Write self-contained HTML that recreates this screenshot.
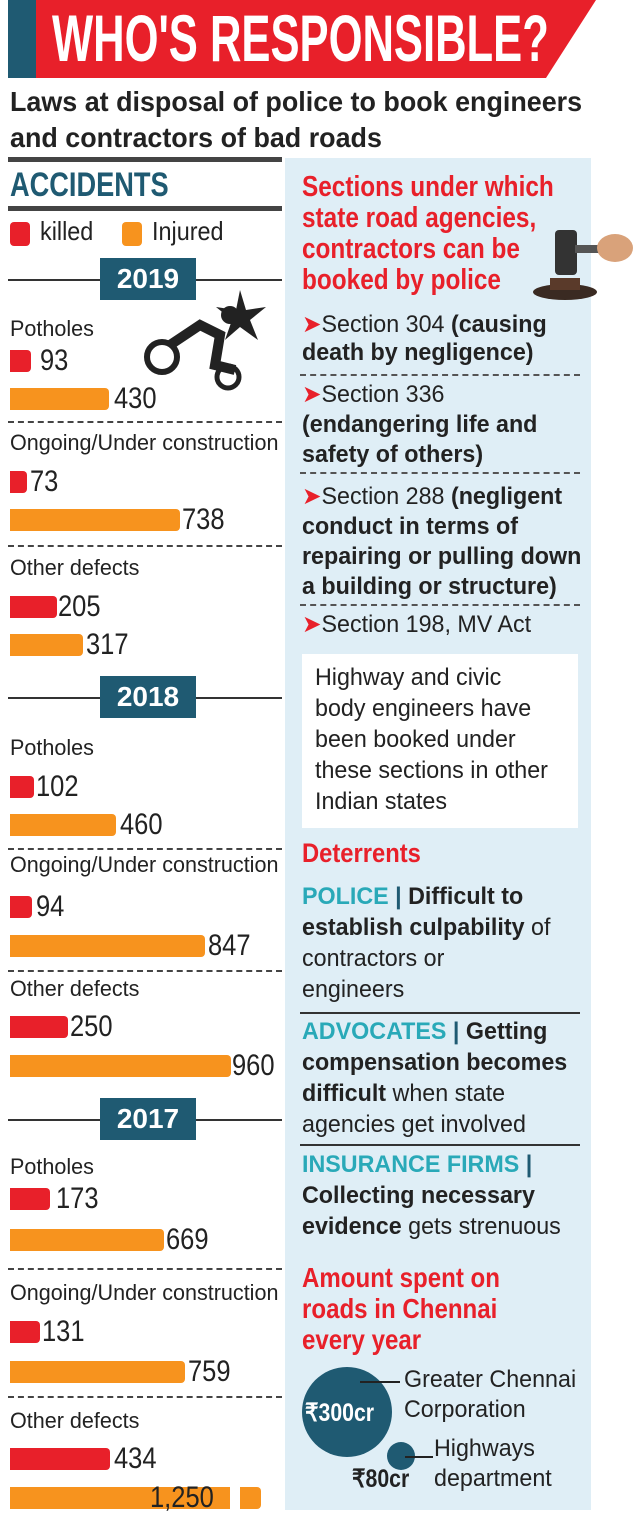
<!DOCTYPE html>
<html><head><meta charset="utf-8"><style>
*{margin:0;padding:0;box-sizing:border-box}
body{width:635px;height:1528px;background:#fff;position:relative;overflow:hidden;font-family:"Liberation Sans",sans-serif;color:#222;}
.a{position:absolute;white-space:nowrap}
.b{font-weight:bold}
.r{color:#e8202a}
.t{color:#29a9b8}
.red{position:absolute;background:#e8202a;border-radius:0 4px 4px 0;height:22px;left:10px}
.or{position:absolute;background:#f7931e;border-radius:0 4px 4px 0;height:22px;left:10px}
.lab{position:absolute;font-size:22px;left:10px;white-space:nowrap;transform:scaleX(0.98);transform-origin:left}
.num{position:absolute;font-size:30px;line-height:30px;transform:scaleX(0.85);transform-origin:left}
.dash{position:absolute;left:8px;width:274px;border-top:2px dashed #444}
.rd{position:absolute;left:300px;width:280px;border-top:2px dashed #555}
.rl{position:absolute;font-size:24px;line-height:30px;left:302px;white-space:nowrap;transform:scaleX(0.97);transform-origin:left}
.yr{position:absolute;left:100px;width:96px;height:42px;background:#1f5a72;color:#fff;font-weight:bold;font-size:28px;text-align:center;line-height:42px}
.yl{position:absolute;left:8px;width:274px;border-top:2px solid #333}
</style></head><body>
<div class="a" style="left:8px;top:0;width:30px;height:78px;background:#1f5a72"></div>
<svg class="a" style="left:36px;top:0" width="560" height="78"><polygon points="0,0 560,0 510,78 0,78" fill="#e8202a"/></svg>
<div class="a b" style="left:52px;top:2px;font-size:66px;line-height:72px;color:#fff;transform:scaleX(0.66);transform-origin:left">WHO'S RESPONSIBLE?</div>
<div class="a b" style="left:10px;top:84px;font-size:28px;line-height:36px;transform:scaleX(0.96);transform-origin:left">Laws at disposal of police to book engineers<br>and contractors of bad roads</div>

<div class="a" style="left:285px;top:158px;width:306px;height:1352px;background:#dfeef6"></div>

<div class="a" style="left:8px;top:157px;width:274px;height:5px;background:#444"></div>
<div class="a b" style="left:10px;top:166px;font-size:34px;color:#1f5a72;transform:scaleX(0.8);transform-origin:left">ACCIDENTS</div>
<div class="a" style="left:8px;top:206px;width:274px;height:5px;background:#444"></div>
<div class="a" style="left:10px;top:222px;width:20px;height:24px;background:#e8202a;border-radius:4px"></div>
<div class="a" style="left:40px;top:216px;font-size:26px;transform:scaleX(0.9);transform-origin:left">killed</div>
<div class="a" style="left:122px;top:222px;width:20px;height:24px;background:#f7931e;border-radius:4px"></div>
<div class="a" style="left:152px;top:216px;font-size:26px;transform:scaleX(0.9);transform-origin:left">Injured</div>

<div class="yl" style="top:279px"></div><div class="yr" style="top:258px">2019</div>
<svg class="a" style="left:140px;top:285px" width="130" height="110"><circle cx="22" cy="72" r="15" fill="none" stroke="#222" stroke-width="6"/><circle cx="88" cy="92" r="11" fill="none" stroke="#222" stroke-width="5"/><path d="M30,60 L60,40 L80,50 L75,80 L95,85" fill="none" stroke="#222" stroke-width="10"/><polygon points="100,5 106,25 126,22 110,35 118,55 100,42 85,55 92,35 76,22 96,25" fill="#222"/><circle cx="90" cy="30" r="9" fill="#222"/></svg>
<div class="lab" style="top:316px">Potholes</div>
<div class="red" style="top:350px;width:21px"></div><div class="num" style="left:40px;top:346px">93</div>
<div class="or" style="top:388px;width:99px"></div><div class="num" style="left:114px;top:384px">430</div>
<div class="dash" style="top:421px"></div>
<div class="lab" style="top:430px">Ongoing/Under construction</div>
<div class="red" style="top:471px;width:17px"></div><div class="num" style="left:30px;top:467px">73</div>
<div class="or" style="top:509px;width:170px"></div><div class="num" style="left:182px;top:505px">738</div>
<div class="dash" style="top:545px"></div>
<div class="lab" style="top:555px">Other defects</div>
<div class="red" style="top:596px;width:47px"></div><div class="num" style="left:58px;top:592px">205</div>
<div class="or" style="top:634px;width:73px"></div><div class="num" style="left:86px;top:630px">317</div>

<div class="yl" style="top:697px"></div><div class="yr" style="top:676px">2018</div>
<div class="lab" style="top:735px">Potholes</div>
<div class="red" style="top:776px;width:24px"></div><div class="num" style="left:36px;top:772px">102</div>
<div class="or" style="top:814px;width:106px"></div><div class="num" style="left:120px;top:810px">460</div>
<div class="dash" style="top:848px"></div>
<div class="lab" style="top:852px">Ongoing/Under construction</div>
<div class="red" style="top:896px;width:22px"></div><div class="num" style="left:36px;top:892px">94</div>
<div class="or" style="top:935px;width:195px"></div><div class="num" style="left:208px;top:931px">847</div>
<div class="dash" style="top:970px"></div>
<div class="lab" style="top:976px">Other defects</div>
<div class="red" style="top:1016px;width:58px"></div><div class="num" style="left:70px;top:1012px">250</div>
<div class="or" style="top:1055px;width:221px"></div><div class="num" style="left:232px;top:1051px">960</div>

<div class="yl" style="top:1119px"></div><div class="yr" style="top:1098px">2017</div>
<div class="lab" style="top:1154px">Potholes</div>
<div class="red" style="top:1188px;width:40px"></div><div class="num" style="left:56px;top:1184px">173</div>
<div class="or" style="top:1229px;width:154px"></div><div class="num" style="left:166px;top:1225px">669</div>
<div class="dash" style="top:1268px"></div>
<div class="lab" style="top:1280px">Ongoing/Under construction</div>
<div class="red" style="top:1321px;width:30px"></div><div class="num" style="left:42px;top:1317px">131</div>
<div class="or" style="top:1361px;width:175px"></div><div class="num" style="left:188px;top:1357px">759</div>
<div class="dash" style="top:1396px"></div>
<div class="lab" style="top:1408px">Other defects</div>
<div class="red" style="top:1448px;width:100px"></div><div class="num" style="left:114px;top:1444px">434</div>
<div class="or" style="top:1487px;width:220px;border-radius:0"></div>
<div class="a" style="left:240px;top:1487px;width:21px;height:22px;background:#f7931e;border-radius:0 4px 4px 0"></div>
<div class="num" style="left:150px;top:1483px">1,250</div>

<div class="a b r" style="left:302px;top:172px;font-size:29px;line-height:31px;transform:scaleX(0.84);transform-origin:left">Sections under which<br>state road agencies,<br>contractors can be<br>booked by police</div>
<svg class="a" style="left:530px;top:220px" width="105" height="85"><ellipse cx="35" cy="72" rx="32" ry="8" fill="#3a2a22"/><rect x="20" y="58" width="30" height="12" fill="#5a3a2a"/><rect x="25" y="10" width="22" height="45" rx="4" fill="#333"/><rect x="45" y="25" width="40" height="8" fill="#555"/><ellipse cx="85" cy="28" rx="18" ry="14" fill="#d9a27a"/></svg>
<div class="rl" style="top:310px"><span class="r">➤</span>Section 304 <b>(causing</b></div>
<div class="rl b" style="top:338px">death by negligence)</div>
<div class="rd" style="top:374px"></div>
<div class="rl" style="top:380px"><span class="r">➤</span>Section 336</div>
<div class="rl b" style="top:410px">(endangering life and</div>
<div class="rl b" style="top:440px">safety of others)</div>
<div class="rd" style="top:472px"></div>
<div class="rl" style="top:482px"><span class="r">➤</span>Section 288 <b>(negligent</b></div>
<div class="rl b" style="top:512px">conduct in terms of</div>
<div class="rl b" style="top:542px">repairing or pulling down</div>
<div class="rl b" style="top:572px">a building or structure)</div>
<div class="rd" style="top:604px"></div>
<div class="rl" style="top:610px"><span class="r">➤</span>Section 198, MV Act</div>
<div class="a" style="left:302px;top:654px;width:276px;height:174px;background:#fff"></div>
<div class="rl" style="left:315px;top:662px;line-height:31px">Highway and civic<br>body engineers have<br>been booked under<br>these sections in other<br>Indian states</div>
<div class="a b r" style="left:302px;top:838px;font-size:27px;transform:scaleX(0.88);transform-origin:left">Deterrents</div>
<div class="rl" style="top:882px"><b class="t">POLICE</b> <b style="color:#1f5a72">|</b> <b>Difficult to</b></div>
<div class="rl" style="top:913px"><b>establish culpability</b> of</div>
<div class="rl" style="top:944px">contractors or</div>
<div class="rl" style="top:975px">engineers</div>
<div class="a" style="left:300px;top:1012px;width:280px;border-top:2px solid #333"></div>
<div class="rl" style="top:1017px"><b class="t">ADVOCATES</b> <b style="color:#1f5a72">|</b> <b>Getting</b></div>
<div class="rl b" style="top:1048px">compensation becomes</div>
<div class="rl" style="top:1079px"><b>difficult</b> when state</div>
<div class="rl" style="top:1110px">agencies get involved</div>
<div class="a" style="left:300px;top:1144px;width:280px;border-top:2px solid #333"></div>
<div class="rl" style="top:1150px"><b class="t">INSURANCE FIRMS</b> <b style="color:#1f5a72">|</b></div>
<div class="rl b" style="top:1181px">Collecting necessary</div>
<div class="rl" style="top:1212px"><b>evidence</b> gets strenuous</div>
<div class="a b r" style="left:302px;top:1262px;font-size:28px;line-height:31px;transform:scaleX(0.86);transform-origin:left">Amount spent on<br>roads in Chennai<br>every year</div>
<div class="a" style="left:302px;top:1367px;width:90px;height:90px;border-radius:50%;background:#1f5a72"></div>
<div class="a b" style="left:305px;top:1398px;font-size:25px;color:#fff;transform:scaleX(0.85);transform-origin:left">₹300cr</div>
<div class="a" style="left:360px;top:1381px;width:40px;border-top:2px solid #222"></div>
<div class="a" style="left:387px;top:1442px;width:28px;height:28px;border-radius:50%;background:#1f5a72"></div>
<div class="a" style="left:405px;top:1456px;width:28px;border-top:2px solid #222"></div>
<div class="rl" style="left:404px;top:1365px">Greater Chennai</div>
<div class="rl" style="left:404px;top:1395px">Corporation</div>
<div class="rl" style="left:434px;top:1434px">Highways</div>
<div class="rl" style="left:434px;top:1464px">department</div>
<div class="a b" style="left:352px;top:1464px;font-size:25px;transform:scaleX(0.85);transform-origin:left">₹80cr</div>
</body></html>
